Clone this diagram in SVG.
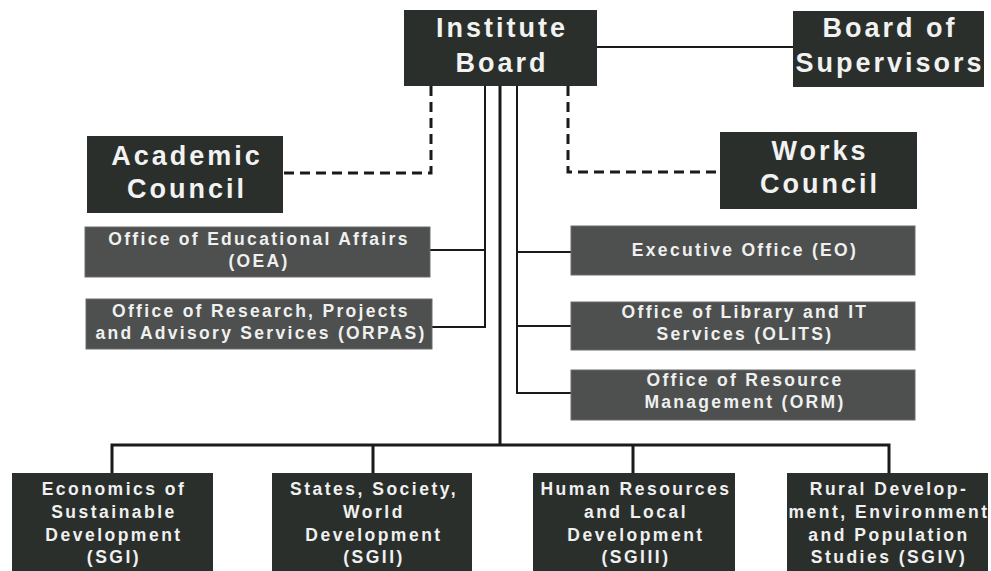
<svg xmlns="http://www.w3.org/2000/svg" width="991" height="571" viewBox="0 0 991 571">
<style>
.dark{fill:#2a2f2c}
.off{fill:#4d504e;stroke:#6a6d6b;stroke-width:1}
.big{font-family:"Liberation Sans",Arial,sans-serif;font-weight:bold;font-size:27px;letter-spacing:3px;fill:#f2f2f2;text-anchor:middle}
.mid{font-family:"Liberation Sans",Arial,sans-serif;font-weight:bold;font-size:17.5px;letter-spacing:2.3px;fill:#f0f0f0;text-anchor:middle}
.sm{font-family:"Liberation Sans",Arial,sans-serif;font-weight:bold;font-size:17.5px;letter-spacing:2.5px;fill:#f0f0f0;text-anchor:middle}
.ln{stroke:#1a1a1a;stroke-width:2;fill:none}
.bus{stroke:#1a1a1a;stroke-width:3;fill:none}
.dash{stroke:#1a1a1a;stroke-width:3;fill:none;stroke-dasharray:10 6}
</style>
<rect width="991" height="571" fill="#ffffff"/>
<g id="connectors">
<line class="ln" x1="597" y1="47" x2="793" y2="47"/>
<path class="dash" d="M431,86 V173 H283"/>
<path class="dash" d="M568,86 V172 H720"/>
<path class="ln" d="M485,86 V327 H432"/>
<line class="ln" x1="485" y1="250" x2="430" y2="250"/>
<path class="ln" d="M517,86 V393 H571"/>
<line class="ln" x1="517" y1="252" x2="571" y2="252"/>
<line class="ln" x1="517" y1="326" x2="571" y2="326"/>
<line class="bus" x1="500" y1="86" x2="500" y2="445"/>
<path class="bus" d="M112,473 V445 H889 V473"/>
<line class="bus" x1="373" y1="445" x2="373" y2="473"/>
<line class="bus" x1="633" y1="445" x2="633" y2="473"/>
</g>
<g id="institute-board"><rect class="dark" x="404" y="10" width="193" height="76"/><text class="big" x="502" y="37">Institute</text><text class="big" x="502" y="72">Board</text></g>
<g id="board-of-supervisors"><rect class="dark" x="793" y="11" width="191" height="76"/><text class="big" x="890" y="37">Board of</text><text class="big" x="890" y="72">Supervisors</text></g>
<g id="academic-council"><rect class="dark" x="87" y="136" width="196" height="77"/><text class="big" x="187" y="165">Academic</text><text class="big" x="187" y="198">Council</text></g>
<g id="works-council"><rect class="dark" x="720" y="132" width="197" height="77"/><text class="big" x="820" y="160">Works</text><text class="big" x="820" y="193">Council</text></g>
<g id="oea"><rect class="off" x="85" y="227" width="345" height="50"/><text class="mid" x="259" y="245">Office of Educational Affairs</text><text class="mid" x="259" y="267">(OEA)</text></g>
<g id="orpas"><rect class="off" x="86" y="299" width="346" height="50"/><text class="mid" x="261" y="317">Office of Research, Projects</text><text class="mid" x="261" y="339">and Advisory Services (ORPAS)</text></g>
<g id="eo"><rect class="off" x="571" y="226" width="344" height="49"/><text class="mid" x="745" y="256">Executive Office (EO)</text></g>
<g id="olits"><rect class="off" x="571" y="302" width="344" height="48"/><text class="mid" x="745" y="318">Office of Library and IT</text><text class="mid" x="745" y="340">Services (OLITS)</text></g>
<g id="orm"><rect class="off" x="571" y="370" width="344" height="50"/><text class="mid" x="745" y="386">Office of Resource</text><text class="mid" x="745" y="408">Management (ORM)</text></g>
<g id="sgi"><rect class="dark" x="12" y="473" width="201" height="102"/><text class="sm" x="114" y="495">Economics of</text><text class="sm" x="114" y="518">Sustainable</text><text class="sm" x="114" y="541">Development</text><text class="sm" x="114" y="563">(SGI)</text></g>
<g id="sgii"><rect class="dark" x="272" y="473" width="200" height="102"/><text class="sm" x="374" y="495">States, Society,</text><text class="sm" x="374" y="518">World</text><text class="sm" x="374" y="541">Development</text><text class="sm" x="374" y="563">(SGII)</text></g>
<g id="sgiii"><rect class="dark" x="533" y="473" width="202" height="102"/><text class="sm" x="636" y="495">Human Resources</text><text class="sm" x="636" y="518">and Local</text><text class="sm" x="636" y="541">Development</text><text class="sm" x="636" y="563">(SGIII)</text></g>
<g id="sgiv"><rect class="dark" x="787" y="473" width="201" height="102"/><text class="sm" x="889" y="495">Rural Develop-</text><text class="sm" x="889" y="518">ment, Environment</text><text class="sm" x="889" y="541">and Population</text><text class="sm" x="889" y="563">Studies (SGIV)</text></g>
</svg>
